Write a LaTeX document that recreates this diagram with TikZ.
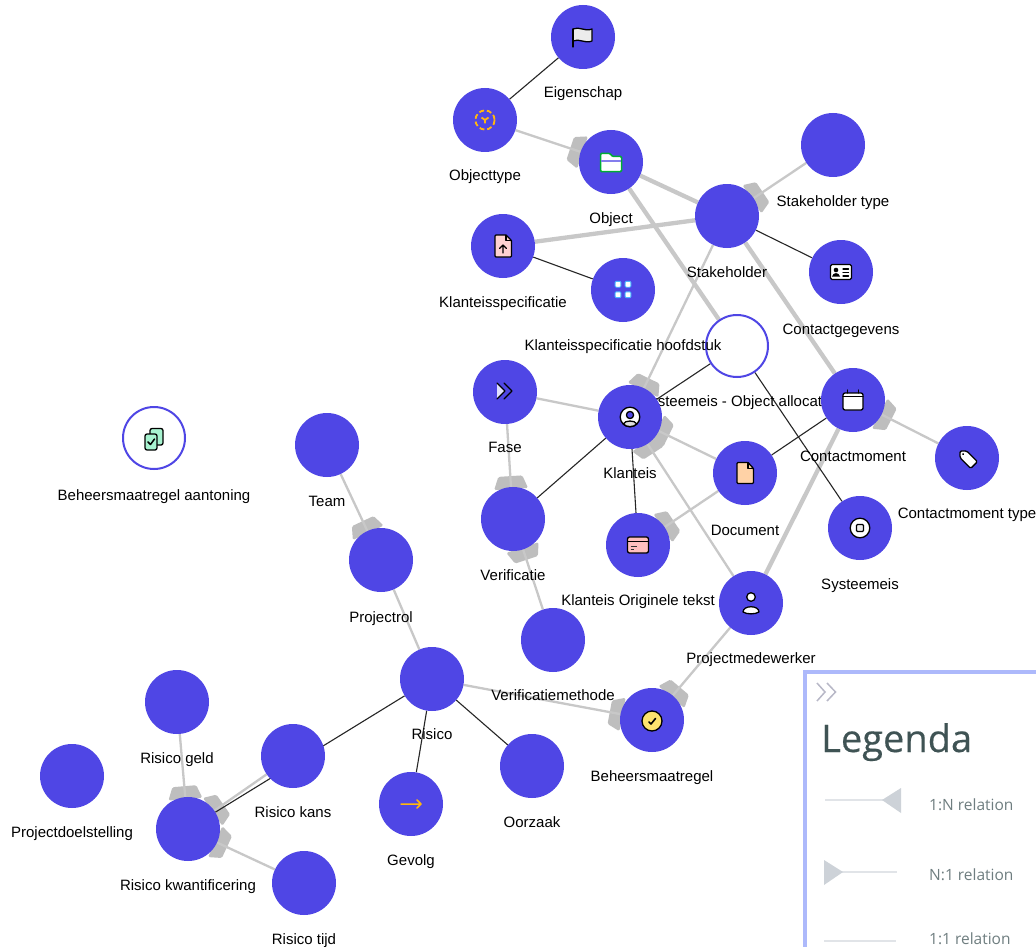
\documentclass[tikz,border=0pt]{standalone}
\usepackage{fontspec}
\setmainfont{Liberation Sans}
\newfontfamily\legfont{Open Sans}
\newfontfamily\legtitlefont[FakeBold=0.4]{Open Sans}
\usetikzlibrary{calc,backgrounds}
\pgfdeclarelayer{edgelayer}
\pgfdeclarelayer{hiddenlabel}
\pgfsetlayers{background,edgelayer,hiddenlabel,main}
\definecolor{ind}{HTML}{4F46E5}
\definecolor{edgegray}{HTML}{C8C8C8}
\definecolor{crowgray}{HTML}{BEBEBE}
\definecolor{legborder}{HTML}{ADB9FB}
\definecolor{legtitle}{HTML}{3F5354}
\definecolor{legtext}{HTML}{6F7E80}
\definecolor{legline}{HTML}{E1E4E8}
\definecolor{legtri}{HTML}{CDD2D8}
\definecolor{amber}{HTML}{FFB70F}
\definecolor{mint}{HTML}{A7F3D0}
\definecolor{softyellow}{HTML}{FDE36E}
\tikzset{
 ent/.style={circle,fill=ind,minimum size=64pt,inner sep=0pt},
 hollow/.style={circle,fill=white,draw=ind,line width=2pt,minimum size=62pt,inner sep=0pt},
 lab/.style={font=\fontsize{15}{17}\selectfont,text=black,inner sep=0pt,anchor=base},
 thin1/.style={draw=black!85,line width=1.1pt},
 gray1/.style={draw=edgegray,line width=2.3pt},
 gray2/.style={draw=edgegray,line width=4.3pt},
 ic/.style={draw=black,line width=1.3pt,line join=round,line cap=round},
 legt/.style={font=\legfont\fontsize{15.5}{17}\selectfont,text=legtext,anchor=base west,inner sep=0pt},
}
\newcommand{\crowhead}[2]{\fill[crowgray,rounded corners=1.5pt] ($(#1)!34.5pt!29.5:(#2)$) -- ($(#1)!44.6pt!15.6:(#2)$) -- ($(#1)!44.6pt!-15.6:(#2)$) -- ($(#1)!34.5pt!-29.5:(#2)$) -- cycle;}
\begin{document}
\begin{tikzpicture}[x=1pt,y=-1pt]
\useasboundingbox (0,0) rectangle (1036,947);
\begin{pgfonlayer}{background}
\fill[white] (0,0) rectangle (1036,947);
\end{pgfonlayer}
% entities
\node[ent] (eig) at (583,37) {};
\node[ent] (objt) at (485,120) {};
\node[ent] (obj) at (611,162) {};
\node[ent] (sth) at (727,216) {};
\node[ent] (stt) at (833,145) {};
\node[ent] (con) at (841,272) {};
\node[ent] (kspec) at (503,246) {};
\node[ent] (khfd) at (623,290) {};
\node[hollow] (soa) at (737,346) {};
\node[ent] (fase) at (505,392) {};
\node[ent] (kl) at (630,417) {};
\node[ent] (cm) at (853,400) {};
\node[ent] (cmt) at (967,458) {};
\node[ent] (doc) at (745,473) {};
\node[ent] (ver) at (513,519) {};
\node[ent] (kot) at (638,545) {};
\node[ent] (sys) at (860,528) {};
\node[ent] (pm) at (751,603) {};
\node[ent] (bhm) at (652,720) {};
\node[ent] (vm) at (553,640) {};
\node[ent] (team) at (327,445) {};
\node[ent] (prol) at (381,560) {};
\node[ent] (ris) at (432,679) {};
\node[ent] (oor) at (532,766) {};
\node[ent] (gev) at (411,804) {};
\node[ent] (rka) at (293,756) {};
\node[ent] (rge) at (177,702) {};
\node[ent] (rkw) at (188,829) {};
\node[ent] (rti) at (304,883) {};
\node[ent] (pds) at (72,776) {};
\node[hollow] (bma) at (154,438) {};
% connectors
\begin{pgfonlayer}{edgelayer}
\crowhead{obj}{objt}
\crowhead{sth}{stt}
\crowhead{kl}{sth}
\crowhead{ver}{fase}
\crowhead{ver}{vm}
\crowhead{kl}{doc}
\crowhead{kot}{doc}
\crowhead{kl}{pm}
\crowhead{bhm}{pm}
\crowhead{bhm}{ris}
\crowhead{cm}{cmt}
\crowhead{prol}{team}
\crowhead{rkw}{rge}
\crowhead{rkw}{rka}
\crowhead{rkw}{rti}
\draw[gray1] (objt)--(obj);
\draw[gray1] (sth)--(stt);
\draw[gray1] (sth)--(kl);
\draw[gray1] (fase)--(kl);
\draw[gray1] (fase)--(ver);
\draw[gray1] (ver)--(vm);
\draw[gray1] (kl)--(doc);
\draw[gray1] (doc)--(kot);
\draw[gray1] (kl)--(pm);
\draw[gray1] (pm)--(bhm);
\draw[gray1] (ris)--(bhm);
\draw[gray1] (cm)--(cmt);
\draw[gray1] (team)--(prol);
\draw[gray1] (prol)--(ris);
\draw[gray1] (rge)--(rkw);
\draw[gray1] (rka)--(rkw);
\draw[gray1] (rti)--(rkw);
\draw[gray2] (obj)--(sth);
\draw[gray2] (sth)--(kspec);
\draw[gray2] (obj)--(soa);
\draw[gray2] (sth)--(cm);
\draw[gray2] (cm)--(pm);
\draw[thin1] (eig)--(objt);
\draw[thin1] (kspec)--(khfd);
\draw[thin1] (sth)--(con);
\draw[thin1] (soa)--(kl);
\draw[thin1] (soa)--(sys);
\draw[thin1] (cm)--(doc);
\draw[thin1] (kl)--(ver);
\draw[thin1] (kl)--(kot);
\draw[thin1] (ris)--(rkw);
\draw[thin1] (ris)--(gev);
\draw[thin1] (ris)--(oor);
\end{pgfonlayer}
% label hidden partly by the nodes
\begin{pgfonlayer}{hiddenlabel}
\node[lab] (lsoa) at (737,406) {Systeemeis - Object allocatie};
\end{pgfonlayer}
% labels
\node[lab] (l1) at (583,98) {Eigenschap};
\node[lab] (l2) at (485,180) {Objecttype};
\node[lab] (l3) at (611,223) {Object};
\node[lab] (l4) at (833,206) {Stakeholder type};
\node[lab] (l5) at (727,277) {Stakeholder};
\node[lab] (l6) at (841,334) {Contactgegevens};
\node[lab] (l7) at (503,307) {Klanteisspecificatie};
\node[lab] (l8) at (623,350) {Klanteisspecificatie hoofdstuk};
\node[lab] (l9) at (505,452) {Fase};
\node[lab] (l10) at (630,478) {Klanteis};
\node[lab] (l11) at (853,461) {Contactmoment};
\node[lab] (l12) at (967,518) {Contactmoment type};
\node[lab] (l13) at (745,535) {Document};
\node[lab] (l14) at (513,580) {Verificatie};
\node[lab] (l15) at (638,605) {Klanteis Originele tekst};
\node[lab] (l16) at (860,589) {Systeemeis};
\node[lab] (l17) at (751,663) {Projectmedewerker};
\node[lab] (l18) at (553,700) {Verificatiemethode};
\node[lab] (l19) at (652,781) {Beheersmaatregel};
\node[lab] (l20) at (327,506) {Team};
\node[lab] (l21) at (381,622) {Projectrol};
\node[lab] (l22) at (432,739) {Risico};
\node[lab] (l23) at (532,827) {Oorzaak};
\node[lab] (l24) at (411,865) {Gevolg};
\node[lab] (l25) at (293,817) {Risico kans};
\node[lab] (l26) at (177,763) {Risico geld};
\node[lab] (l27) at (188,890) {Risico kwantificering};
\node[lab] (l28) at (304,944) {Risico tijd};
\node[lab] (l29) at (72,837) {Projectdoelstelling};
\node[lab] (l30) at (154,500) {Beheersmaatregel aantoning};
% icons
\begin{scope}[shift={(eig)}]
\draw[ic,fill=gray!15] (-10,-8) .. controls (-4,-11) and (2,-5) .. (9,-8) -- (9,4) .. controls (2,7) and (-4,1) .. (-10,4) -- cycle;
\draw[ic] (-10,-8) -- (-10,10);
\end{scope}
\begin{scope}[shift={(objt)}]
\draw[amber,line width=1.8pt,dash pattern=on 5pt off 2.8pt] (0,0) circle (9.6);
\draw[amber,line width=1.8pt] (-3.5,-2.5)--(0,0)--(3.5,-2.5) (0,0)--(0,3.5);
\end{scope}
\begin{scope}[shift={(obj)}]
\draw[draw=green!60!black!80!cyan,line width=1.5pt,fill=white,rounded corners=1pt] (-10.5,-8.5) -- (-1,-8.5) -- (1.5,-5.5) -- (10.5,-5.5) -- (10.5,9.5) -- (-10.5,9.5) -- cycle;
\fill[ind!70] (-9.8,-2) rectangle (9.8,0);
\end{scope}
\begin{scope}[shift={(kspec)}]
\draw[ic,fill=pink!70,rounded corners=1pt] (-8,-11) -- (3,-11) -- (8.5,-5.5) -- (8.5,11) -- (-8,11) -- cycle;
\draw[ic] (3,-11)--(3,-5.5)--(8.5,-5.5);
\draw[ic] (0,7)--(0,-1) (-3.5,2.5)--(0,-1)--(3.5,2.5);
\end{scope}
\begin{scope}[shift={(khfd)}]
\foreach \a/\b in {-5/-5.7,5/-5.7,-5/4.7,5/4.7}
 \draw[draw=blue!40!cyan!70!white,line width=.9pt,fill=white,rounded corners=1pt] (\a-2.9,\b-2.9) rectangle (\a+2.9,\b+2.9);
\end{scope}
\begin{scope}[shift={(con)}]
\draw[ic,fill=white,rounded corners=1.5pt] (-10.5,-7.5) rectangle (10.5,7.5);
\fill[black] (-5,-2) circle (2.3);
\fill[black] (-9,4.5) .. controls (-8,0) and (-2,0) .. (-1,4.5) -- cycle;
\draw[ic] (2,-3)--(7.5,-3) (2,0.5)--(7.5,0.5) (2,4)--(7.5,4);
\end{scope}
\begin{scope}[shift={(fase)}]
\fill[blue!12!white] (-8,-9) -- (0,-1) -- (-8,7) -- cycle;
\draw[ic] (-8,-9) -- (0,-1) -- (-8,7);
\draw[ic] (-1,-9) -- (7,-1) -- (-1,7);
\end{scope}
\begin{scope}[shift={(kl)}]
\draw[ic,fill=white] (0,0) circle (9.8);
\draw[ic,fill=ind] (0,-2) circle (3.6);
\draw[ic,fill=gray!25] (-6.8,7) .. controls (-5,3) and (5,3) .. (6.8,7) .. controls (3,10.5) and (-3,10.5) .. (-6.8,7) -- cycle;
\end{scope}
\begin{scope}[shift={(doc)}]
\draw[ic,fill=orange!35,rounded corners=1pt] (-8,-10.5) -- (3,-10.5) -- (8.5,-4.5) -- (8.5,10.5) -- (-8,10.5) -- cycle;
\draw[ic] (3,-10.5)--(3,-4.5)--(8.5,-4.5);
\end{scope}
\begin{scope}[shift={(kot)}]
\draw[ic,fill=red!25,rounded corners=2pt] (-10.5,-8) rectangle (10.5,8);
\draw[black,line width=.9pt] (-10,-3.5)--(10,-3.5);
\draw[black!80,line width=.9pt] (-7.5,1.5)--(-1,1.5) (-7.5,4)--(-4,4);
\end{scope}
\begin{scope}[shift={(cm)}]
\draw[ic,fill=white,rounded corners=2pt] (-10,-7) rectangle (10,10);
\draw[ic] (-10,-3.5)--(10,-3.5) (-5.5,-10)--(-5.5,-7) (5.5,-10)--(5.5,-7);
\end{scope}
\begin{scope}[shift={(cmt)}]
\begin{scope}[rotate=-45]
\draw[ic,fill=white,rounded corners=1.5pt] (-10,0) -- (-5,-4.8) -- (10,-4.8) -- (10,4.8) -- (-5,4.8) -- cycle;
\fill[black] (-5.5,0) circle (1);
\end{scope}
\end{scope}
\begin{scope}[shift={(sys)}]
\draw[ic,fill=white] (0,0) circle (9.8);
\draw[ic,fill=gray!15,rounded corners=1pt] (-3.5,-3.5) rectangle (3.5,3.5);
\end{scope}
\begin{scope}[shift={(pm)}]
\draw[ic,fill=white] (0,-6) circle (4.3);
\draw[ic,fill=white] (-8,9) .. controls (-8,2) and (8,2) .. (8,9) .. controls (4,11.5) and (-4,11.5) .. (-8,9) -- cycle;
\end{scope}
\begin{scope}[shift={(bhm)}]
\draw[ic,fill=softyellow] (0,1) circle (10);
\draw[black,line width=1.6pt,line cap=round,line join=round] (-3,2)--(-1,4)--(3.5,-1.5);
\end{scope}
\begin{scope}[shift={(gev)}]
\draw[amber,line width=1.5pt,line cap=round,line join=round] (-10,0)--(10,0) (6,-4)--(10,0)--(6,4);
\end{scope}
\begin{scope}[shift={(bma)}]
\draw[ic,fill=mint,rounded corners=2pt] (-4,-4) -- (-4,-9.5) -- (9,-9.5) -- (9,7) -- (3,7) -- (-4,7) -- cycle;
\draw[ic,fill=mint,rounded corners=2pt] (-9,-4) rectangle (3,12);
\draw[black,line width=1.5pt,line cap=round,line join=round] (-6,4)--(-3.5,6.5)--(0.5,1);
\end{scope}
% legend
\coordinate (lgtl) at (805.2,672);
\coordinate (lgtr) at (1036,672);
\coordinate (lgbl) at (805.2,947);
\fill[white] (805.2,672) rectangle (1036,947);
\draw[legborder,line width=4pt] (lgbl)--(lgtl)--(lgtr);
\draw[draw=blue!12!gray!50!white,line width=1.5pt] (817,683)--(825,692)--(817,701) (827,683)--(835.5,692)--(827,701);
\node[font=\legtitlefont\fontsize{38}{42}\selectfont,text=legtitle,anchor=base west,inner sep=0pt] (legt) at (821,752) {Legenda};
\coordinate (a1) at (825,800); \coordinate (a2) at (885,800);
\draw[legline,line width=1.5pt] (a1)--(a2);
\fill[legtri] (882,800)--(901,788)--(901,813)--cycle;
\node[legt] (n1) at (929,810) {1:N relation};
\coordinate (b1) at (840,872); \coordinate (b2) at (897,872);
\draw[legline,line width=1.5pt] (b1)--(b2);
\fill[legtri] (824,860)--(843,872)--(824,885)--cycle;
\node[legt] (n2) at (929,880) {N:1 relation};
\coordinate (c1) at (824,941); \coordinate (c2) at (896,941);
\draw[legline,line width=1.5pt] (c1)--(c2);
\node[legt] (n3) at (929,944.5) {1:1 relation};
\end{tikzpicture}
\end{document}
